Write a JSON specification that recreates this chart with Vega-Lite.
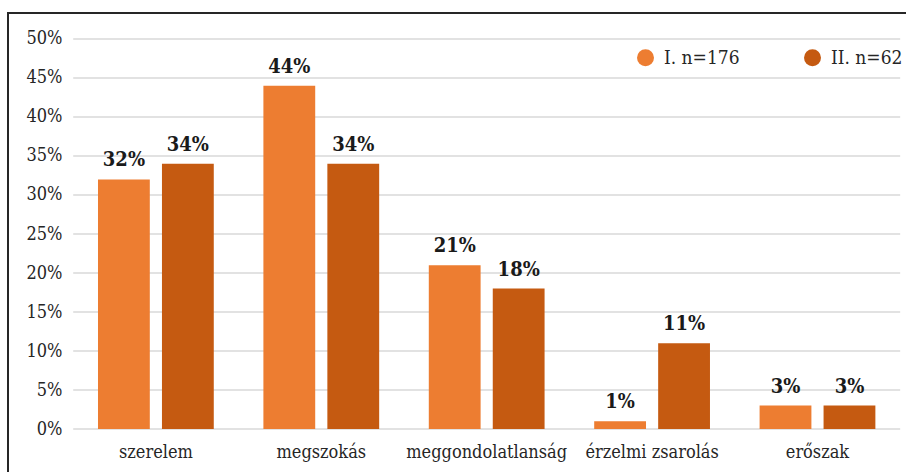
{
  "$schema": "https://vega.github.io/schema/vega-lite/v6.json",
  "width": 901,
  "height": 462,
  "autosize": {"type": "none"},
  "padding": {"left": 8, "top": 13, "right": -3, "bottom": -3},
  "background": "white",
  "config": {
    "view": {"stroke": "#262626", "strokeWidth": 2},
    "font": "DejaVu Serif Condensed",
    "axisX": {"orient": "bottom", "offset": -46, "domain": false, "ticks": false, "grid": false, "labelAngle": 0, "labelPadding": 14, "labelFontSize": 18, "labelColor": "#262626", "labelFont": "DejaVu Serif Condensed", "title": null, "bandPosition": 0.5, "labelAlign": "center"},
    "axisY": {"orient": "left", "offset": -57, "domain": false, "ticks": false, "grid": false, "labelPadding": 3, "labelFontSize": 18, "labelColor": "#262626", "labelFont": "DejaVu Serif Condensed", "title": null}
  },
  "datasets": {
    "bars": [
      {"cat": "szerelem", "series": "I. n=176", "v": 32},
      {"cat": "szerelem", "series": "II. n=62", "v": 34},
      {"cat": "megszokás", "series": "I. n=176", "v": 44},
      {"cat": "megszokás", "series": "II. n=62", "v": 34},
      {"cat": "meggondolatlanság", "series": "I. n=176", "v": 21},
      {"cat": "meggondolatlanság", "series": "II. n=62", "v": 18},
      {"cat": "érzelmi zsarolás", "series": "I. n=176", "v": 1},
      {"cat": "érzelmi zsarolás", "series": "II. n=62", "v": 11},
      {"cat": "erőszak", "series": "I. n=176", "v": 3},
      {"cat": "erőszak", "series": "II. n=62", "v": 3}
    ],
    "grid": [
      {"g": 0}, {"g": 5}, {"g": 10}, {"g": 15}, {"g": 20}, {"g": 25},
      {"g": 30}, {"g": 35}, {"g": 40}, {"g": 45}, {"g": 50}
    ]
  },
  "layer": [
    {
      "data": {"name": "grid"},
      "mark": {"type": "rule", "color": "#d9d9d9", "strokeWidth": 1.5},
      "encoding": {
        "y": {"field": "g", "type": "quantitative", "scale": {"domain": [-5.897, 53.333], "nice": false, "zero": false},
          "axis": {"values": [0, 5, 10, 15, 20, 25, 30, 35, 40, 45, 50], "labelExpr": "datum.value + '%'"}},
        "x": {"datum": "szerelem", "bandPosition": -0.2142},
        "x2": {"datum": "erőszak", "bandPosition": 1.2142}
      }
    },
    {
      "data": {"name": "bars"},
      "mark": {"type": "bar"},
      "encoding": {
        "x": {
          "field": "cat", "type": "nominal", "sort": null,
          "scale": {"domain": ["szerelem", "megszokás", "meggondolatlanság", "érzelmi zsarolás", "erőszak"], "paddingInner": 0.3, "paddingOuter": 0.3737, "align": 0.728},
          "axis": {"bandPosition": 0.5}
        },
        "xOffset": {"field": "series", "type": "nominal", "sort": null, "scale": {"paddingInner": 0.19, "paddingOuter": 0}},
        "y": {
          "field": "v", "type": "quantitative", "stack": null,
          "scale": {"domain": [-5.897, 53.333], "nice": false, "zero": false},
          "axis": {"values": [0, 5, 10, 15, 20, 25, 30, 35, 40, 45, 50], "labelExpr": "datum.value + '%'"}
        },
        "y2": {"datum": 0},
        "color": {
          "field": "series", "type": "nominal", "sort": null,
          "scale": {"domain": ["I. n=176", "II. n=62"], "range": ["#ED7D31", "#C55A11"]},
          "legend": {"title": null, "orient": "none", "legendX": 628, "legendY": 35, "direction": "horizontal", "symbolType": "circle", "symbolSize": 289, "symbolOpacity": 1, "symbolStrokeWidth": 0, "labelFontSize": 19, "labelFont": "DejaVu Serif Condensed", "labelColor": "#262626", "columnPadding": 63, "labelOffset": 9, "padding": 0}
        }
      }
    },
    {
      "data": {"name": "bars"},
      "transform": [{"calculate": "datum.v + '%'", "as": "label"}],
      "mark": {"type": "text", "fontWeight": "bold", "fontSize": 20, "baseline": "bottom", "dy": -9, "color": "#1a1a1a", "font": "DejaVu Serif Condensed"},
      "encoding": {
        "x": {"field": "cat", "type": "nominal", "sort": null, "axis": {"bandPosition": 0.5}},
        "xOffset": {"field": "series", "type": "nominal", "sort": null},
        "y": {"field": "v", "type": "quantitative", "stack": null, "scale": {"domain": [-5.897, 53.333], "nice": false, "zero": false},
          "axis": {"values": [0, 5, 10, 15, 20, 25, 30, 35, 40, 45, 50], "labelExpr": "datum.value + '%'"}},
        "text": {"field": "label"}
      }
    }
  ]
}
